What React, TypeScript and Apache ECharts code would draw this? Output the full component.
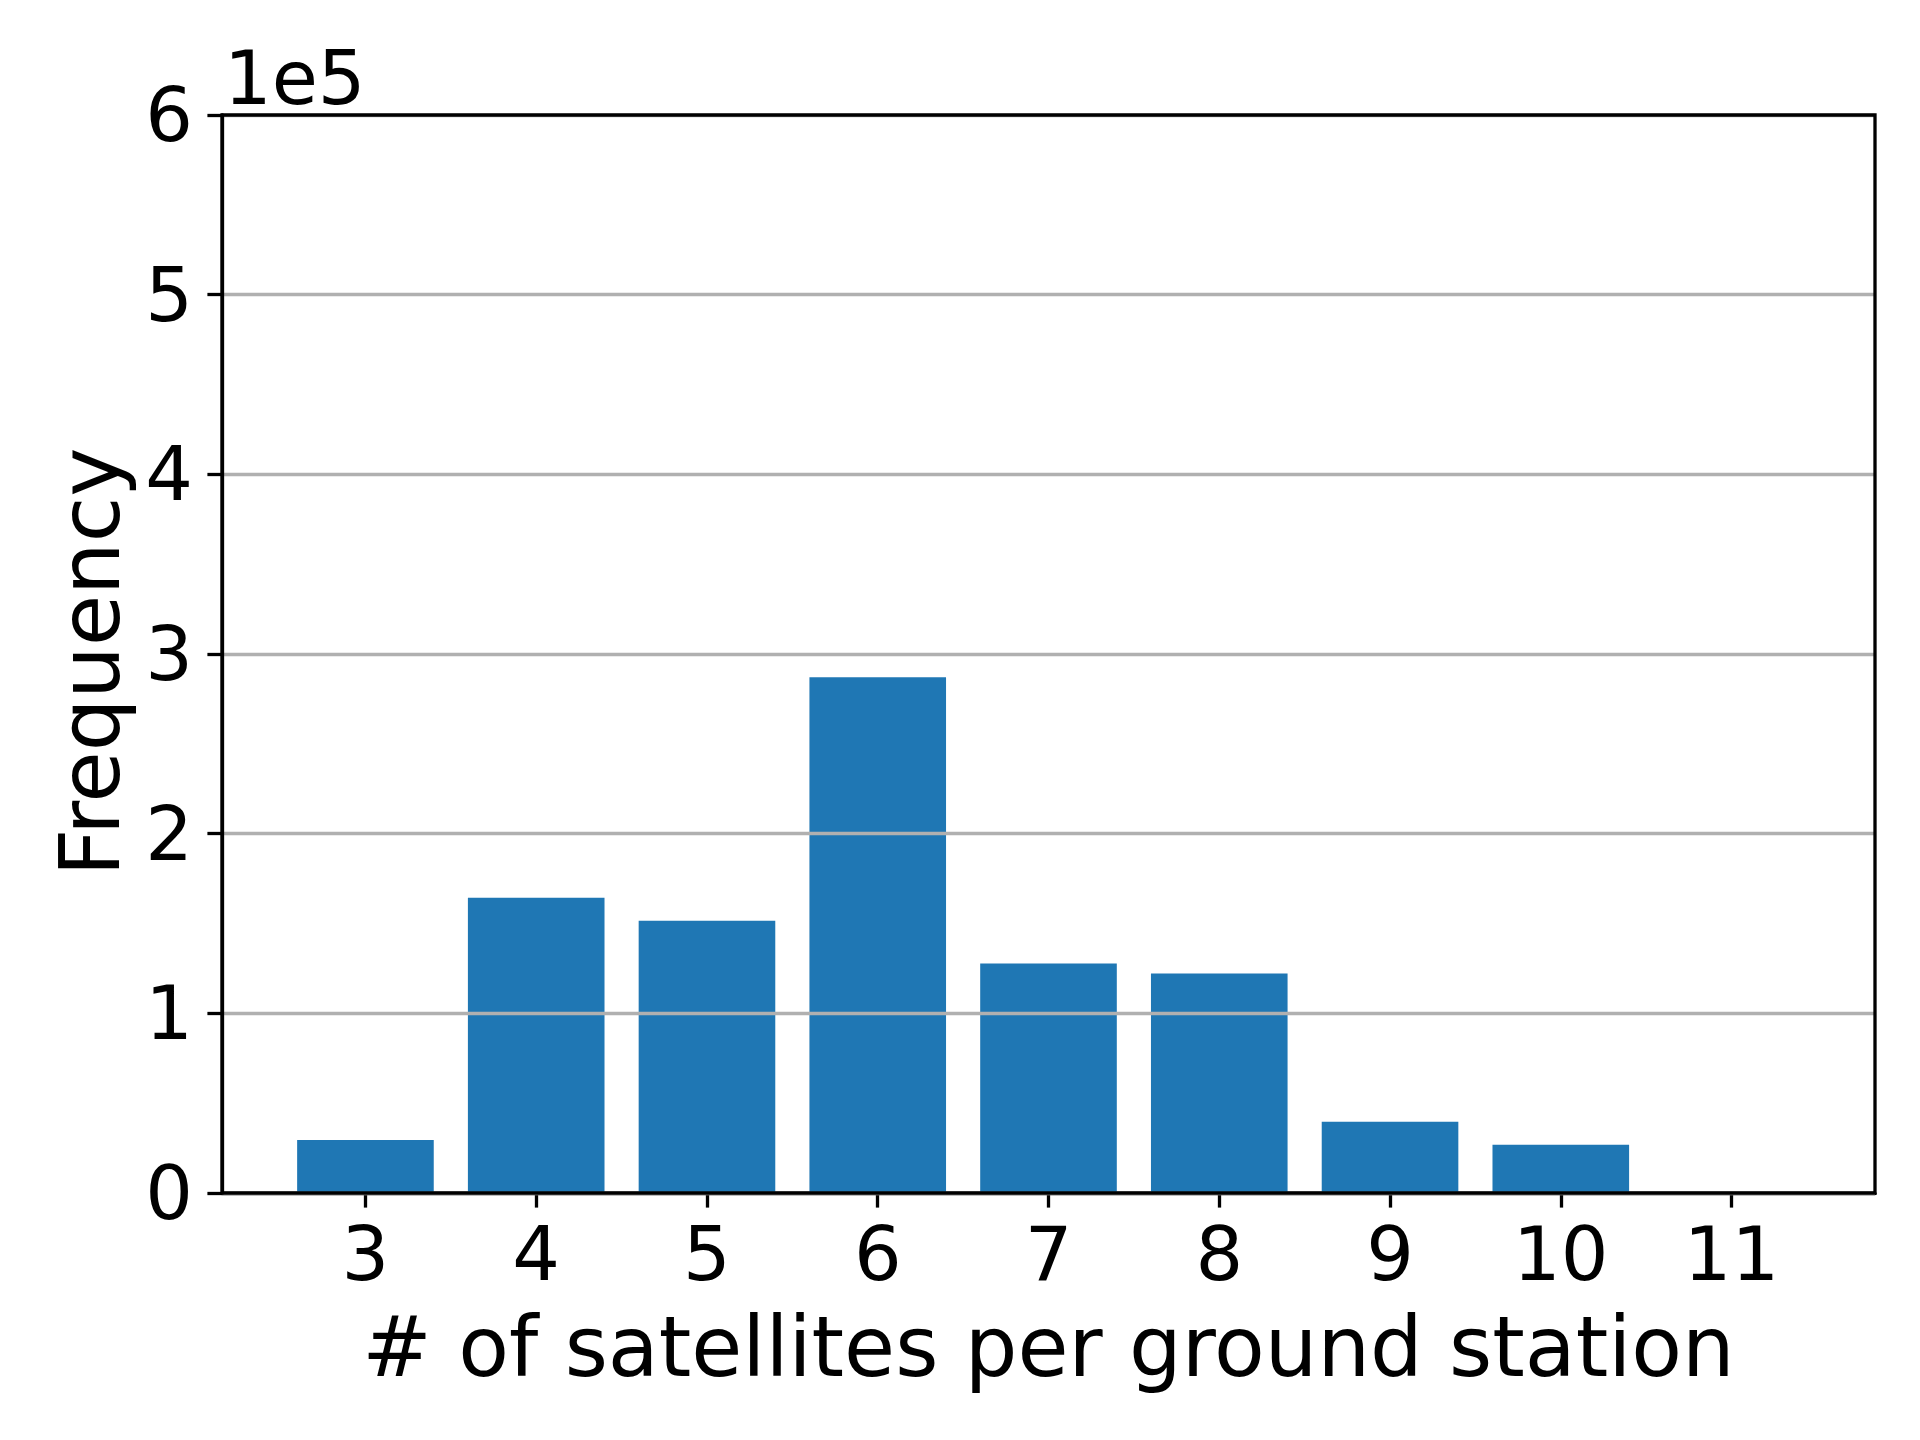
import React, { useEffect, useRef } from "react";
import * as echarts from "echarts";

const categories = [3, 4, 5, 6, 7, 8, 9, 10, 11];
const frequencies = [29500, 164400, 151500, 287100, 127700, 122200, 39700, 26800, 0];
const yTicks = [0, 1, 2, 3, 4, 5, 6];
const xLabel = "# of satellites per ground station";
const yLabel = "Frequency";
const offsetText = "1e5";

const FONT = "DejaVu Sans";

export default function App() {
  const ref = useRef<HTMLDivElement>(null);
  useEffect(() => {
    if (!ref.current) return;
    const chart = echarts.init(ref.current, undefined, { renderer: "svg" });
    const gridLeft = 222;
    const gridTop = 115;
    const gridRight = 45;
    const gridBottom = 247;
    const plotCenterX = gridLeft + (1920 - gridLeft - gridRight) / 2;
    const plotCenterY = gridTop + (1440 - gridTop - gridBottom) / 2;
    chart.setOption({
      animation: false,
      backgroundColor: "#ffffff",
      grid: {
        left: gridLeft,
        top: gridTop,
        right: gridRight,
        bottom: gridBottom,
        show: true,
        borderColor: "#000000",
        borderWidth: 3.3,
        backgroundColor: "transparent",
        z: 6,
      },
      xAxis: {
        type: "value",
        min: 2.16,
        max: 11.84,
        splitLine: { show: false },
        axisLine: { show: true, onZero: false, lineStyle: { color: "#000", width: 3.3 } },
        axisTick: {
          show: true,
          length: 14.6,
          lineStyle: { color: "#000", width: 3.3 },
          customValues: categories,
        },
        axisLabel: {
          show: true,
          customValues: categories,
          fontFamily: FONT,
          fontSize: 75,
          color: "#000",
          margin: 23,
          formatter: (v: number) => String(Math.round(v)),
        },
      },
      yAxis: {
        type: "value",
        min: 0,
        max: 600000,
        interval: 100000,
        z: 5,
        splitLine: { show: true, lineStyle: { color: "#b0b0b0", width: 3.3 } },
        axisLine: { show: true, lineStyle: { color: "#000", width: 3.3 } },
        axisTick: { show: true, length: 14.6, lineStyle: { color: "#000", width: 3.3 } },
        axisLabel: {
          fontFamily: FONT,
          fontSize: 75,
          color: "#000",
          margin: 29,
          formatter: (v: number) => {
            const t = Math.round(v / 100000);
            return yTicks.includes(t) ? String(t) : "";
          },
        },
      },
      graphic: [
        {
          type: "text",
          x: plotCenterX,
          y: 1347,
          style: {
            text: xLabel,
            fontFamily: FONT,
            fontSize: 83,
            fill: "#000",
            align: "center",
            verticalAlign: "middle",
          },
        },
        {
          type: "text",
          x: 90,
          y: plotCenterY + 8,
          rotation: Math.PI / 2,
          style: {
            text: yLabel,
            fontFamily: FONT,
            fontSize: 83,
            fill: "#000",
            align: "center",
            verticalAlign: "middle",
          },
        },
        {
          type: "text",
          x: 224,
          y: 78,
          style: {
            text: offsetText,
            fontFamily: FONT,
            fontSize: 75,
            fill: "#000",
            align: "left",
            verticalAlign: "middle",
          },
        },
      ],
      series: [
        {
          type: "custom",
          z: 1,
          data: categories.map((c, i) => [c, frequencies[i]]),
          renderItem: (params: any, api: any) => {
            const x = api.value(0);
            const y = api.value(1);
            const p1 = api.coord([x - 0.4, y]);
            const p2 = api.coord([x + 0.4, 0]);
            return {
              type: "rect",
              shape: { x: p1[0], y: p1[1], width: p2[0] - p1[0], height: p2[1] - p1[1] },
              style: { fill: "#1f77b4" },
            };
          },
        },
      ],
    });
    return () => chart.dispose();
  }, []);
  return (
    <div
      ref={ref}
      style={{ position: "fixed", left: 0, top: 0, width: 1920, height: 1440, background: "#fff" }}
    />
  );
}
